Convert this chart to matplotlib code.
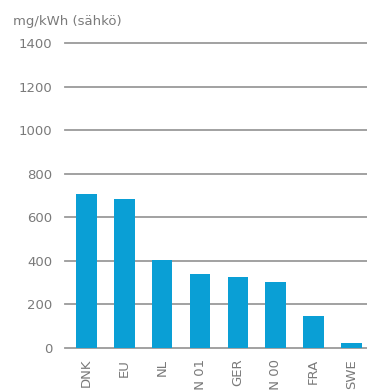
import matplotlib
matplotlib.use("Agg")
import matplotlib.pyplot as plt

# Mercury emissions per kWh of electricity
categories = ["DNK", "EU", "NL", "FIN 01", "GER", "FIN 00", "FRA", "SWE"]
values = [708, 685, 403, 337, 325, 301, 146, 21]
yticks = [0, 200, 400, 600, 800, 1000, 1200, 1400]
unit_label = "mg/kWh (sähkö)"

bar_color = "#0a9fd5"
grid_color = "#9a9a9a"
text_color = "#7a7a7a"

plt.rcParams["font.family"] = ["DejaVu Sans"]

fig = plt.figure(figsize=(3.67, 3.92), dpi=100)
ax = fig.add_axes([0.177, 0.113, 0.823, 0.777])

x = range(len(categories))
ax.bar(x, values, width=0.54, color=bar_color, zorder=3)

ax.set_ylim(0, 1400)
ax.set_xlim(-0.574, 7.415)
ax.set_yticks(yticks)
ax.set_yticklabels([str(v) for v in yticks], color=text_color, fontsize=9.5)
ax.set_xticks(list(x))
ax.set_xticklabels(categories, rotation=90, color=text_color, fontsize=9.5,
                   va="top")

for v in yticks:
    ax.axhline(v, color=grid_color, linewidth=1.3, zorder=1, clip_on=False)

for s in ax.spines.values():
    s.set_visible(False)
ax.tick_params(axis="both", length=0)
ax.tick_params(axis="y", pad=9)
ax.tick_params(axis="x", pad=8)

fig.text(0.035, 0.945, unit_label, color=text_color, fontsize=9.5,
         ha="left", va="center")

fig.savefig("out.png", dpi=100)
